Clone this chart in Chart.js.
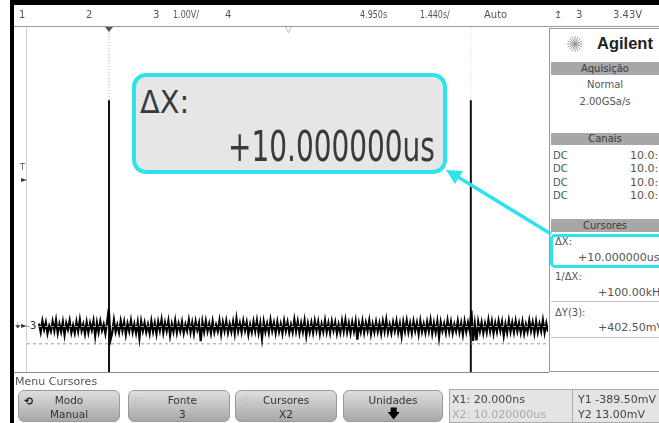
<!DOCTYPE html>
<html>
<head>
<meta charset="utf-8">
<script src="https://cdn.jsdelivr.net/npm/chart.js@4.4.1/dist/chart.umd.min.js"></script>
<style>
body { margin: 0; background: #fff; }
#wrap { position: relative; width: 659px; height: 423px; overflow: hidden;
  font-family: "DejaVu Sans", "Liberation Sans", sans-serif; color: #444; }
#c { position: absolute; left: 0; top: 0; }
.a { position: absolute; white-space: nowrap; }
.sq { transform: scaleX(0.8); transform-origin: left center; }
.st { top: 9px; font-size: 10px; line-height: 12px; color: #555; }
.hd { left: 551px; width: 108px; height: 13px; background: #a7a7a7; color: #3a3a3a;
  font-size: 10px; line-height: 13px; text-align: center; }
.pt { font-size: 10px; line-height: 12px; color: #555; }
.pv { font-size: 11px; line-height: 12px; color: #555; }
.btn { top: 390px; height: 32px; border: 1px solid #9a9a9a; border-radius: 6px;
  background: linear-gradient(#dedede, #a8a8a8); font-size: 10.5px; line-height: 14px;
  text-align: center; color: #333; padding-top: 2px; box-sizing: border-box; }
.ib { font-size: 11px; line-height: 13px; color: #444; }
</style>
</head>
<body>
<div id="wrap">
<canvas id="c" width="659" height="423"></canvas>

<!-- frame -->
<div class="a" style="left:10px;top:0;width:649px;height:5px;background:#000"></div>
<div class="a" style="left:10px;top:0;width:4px;height:423px;background:#000"></div>
<div class="a" style="left:14px;top:26px;width:645px;height:1px;background:#9a9a9a"></div>
<div class="a" style="left:26px;top:27px;width:1px;height:345px;background:#cfcfcf"></div>
<div class="a" style="left:14px;top:372px;width:535px;height:1px;background:#8a8a8a"></div>

<!-- status row -->
<div class="a st" style="left:19px">1</div>
<div class="a st" style="left:86px">2</div>
<div class="a st" style="left:153px">3</div>
<div class="a st sq" style="left:173px">1.00V/</div>
<div class="a st" style="left:225px">4</div>
<div class="a st sq" style="left:360px">4.950s</div>
<div class="a st sq" style="left:420px">1.440s/</div>
<div class="a st" style="left:484px">Auto</div>
<div class="a st" style="left:554px">&#8613;</div>
<div class="a st" style="left:576px">3</div>
<div class="a st" style="left:613px">3.43V</div>

<!-- top markers -->
<div class="a" style="left:105px;top:27px;width:0;height:0;border-left:4px solid transparent;border-right:4px solid transparent;border-top:5px solid #555"></div>
<div class="a" style="left:285px;top:24px;font-size:9px;color:#888">&#9661;</div>

<!-- left markers -->
<div class="a" style="left:20px;top:163px;font-size:8px;color:#555">T</div>
<div class="a" style="left:21px;top:175px;font-size:8px;color:#333">&#9658;</div>
<div class="a" style="left:15px;top:321px;font-size:8px;color:#555">&#9178;</div>
<div class="a" style="left:21px;top:321px;font-size:8px;color:#333">&#9658;</div>
<div class="a" style="left:30px;top:320px;font-size:10px;color:#333">3</div>

<!-- big delta X box -->
<div class="a" style="left:132px;top:73px;width:315px;height:101px;box-sizing:border-box;border:4px solid #2fe2ec;border-radius:14px;background:#e6e6e6"></div>
<div class="a" style="left:140px;top:85px;font-size:32px;line-height:34px;color:#3a3a3a;transform:scaleX(0.9);transform-origin:left top">&Delta;X:</div>
<div class="a" style="left:228px;top:126px;font-family:'DejaVu Sans Condensed','DejaVu Sans',sans-serif;font-stretch:condensed;font-size:42px;line-height:42px;color:#3a3a3a;transform:scaleX(0.74);transform-origin:left top">+10.000000us</div>

<!-- right panel -->
<div class="a" style="left:549px;top:28px;width:112px;height:342px;border-left:1px solid #999;border-top:1px solid #999;border-bottom:1px solid #999;background:#fff"></div>
<svg class="a" style="left:565px;top:34px" width="20" height="20" viewBox="-10 -10 20 20">
  <g stroke="#999" stroke-width="0.9">
    <line x1="0" y1="-8" x2="0" y2="8"/><line x1="-8" y1="0" x2="8" y2="0"/>
    <line x1="-5.6" y1="-5.6" x2="5.6" y2="5.6"/><line x1="-5.6" y1="5.6" x2="5.6" y2="-5.6"/>
    <line x1="-3" y1="-7.4" x2="3" y2="7.4"/><line x1="3" y1="-7.4" x2="-3" y2="7.4"/>
    <line x1="-7.4" y1="-3" x2="7.4" y2="3"/><line x1="-7.4" y1="3" x2="7.4" y2="-3"/>
  </g>
</svg>
<div class="a" style="left:597px;top:34px;font-family:'Liberation Sans','DejaVu Sans',sans-serif;font-weight:bold;font-size:16.5px;line-height:19px;color:#222">Agilent</div>
<div class="a hd" style="top:62px">Aquisição</div>
<div class="a pt" style="left:551px;width:108px;text-align:center;top:79px">Normal</div>
<div class="a pt" style="left:551px;width:108px;text-align:center;top:96px">2.00GSa/s</div>
<div class="a hd" style="top:133px;height:12px;line-height:12px">Canais</div>
<div class="a pt" style="left:553px;top:150px">DC</div>
<div class="a pt" style="left:553px;top:163px">DC</div>
<div class="a pt" style="left:553px;top:177px">DC</div>
<div class="a pt" style="left:553px;top:190px">DC</div>
<div class="a pv" style="left:630px;top:150px">10.0:1</div>
<div class="a pv" style="left:630px;top:163px">10.0:1</div>
<div class="a pv" style="left:630px;top:177px">10.0:1</div>
<div class="a pv" style="left:630px;top:190px">10.0:1</div>
<div class="a hd" style="top:219px">Cursores</div>
<div class="a" style="left:550px;top:234px;width:116px;height:34px;box-sizing:border-box;border:3px solid #2fe2ec;border-radius:5px"></div>
<div class="a pt" style="left:555px;top:236px">&Delta;X:</div>
<div class="a pv" style="left:578px;top:252px">+10.000000us</div>
<div class="a pt" style="left:555px;top:271px">1/&Delta;X:</div>
<div class="a pv" style="left:598px;top:287px">+100.00kHz</div>
<div class="a" style="left:551px;top:301px;width:108px;height:1px;background:#c4c4c4"></div>
<div class="a pt" style="left:555px;top:307px">&Delta;Y(3):</div>
<div class="a pv" style="left:598px;top:322px">+402.50mV</div>
<div class="a" style="left:551px;top:337px;width:108px;height:1px;background:#c4c4c4"></div>

<!-- arrow -->
<svg class="a" style="left:0;top:0" width="659" height="423">
  <line x1="551" y1="234" x2="458" y2="177" stroke="#2fe2ec" stroke-width="3.5"/>
  <polygon points="446,170 463,171 455,184" fill="#2fe2ec"/>
</svg>

<!-- bottom softkeys -->
<div class="a" style="left:15px;top:376px;font-size:11px;line-height:12px;color:#555">Menu Cursores</div>
<div class="a btn" style="left:18px;width:102px">Modo<br>Manual</div>
<div class="a" style="left:24px;top:395px;font-size:11px;font-weight:bold;color:#222">&#10226;</div>
<div class="a btn" style="left:128px;width:102px">&nbsp;&nbsp;Fonte<br>&nbsp;&nbsp;3</div>
<div class="a" style="left:134px;top:395px;font-size:10px;color:#bbb">&#9675;</div>
<div class="a btn" style="left:235px;width:102px">Cursores<br>X2</div>
<div class="a" style="left:241px;top:395px;font-size:10px;color:#bbb">&#9675;</div>
<div class="a btn" style="left:343px;width:100px">Unidades<br><span style="font-size:13px;color:#000">&#129095;</span></div>
<div class="a" style="left:449px;top:389px;width:124px;height:34px;background:#e4e4e4;border:1px solid #aaa;box-sizing:border-box"></div>
<div class="a" style="left:572px;top:389px;width:90px;height:34px;background:#e4e4e4;border:1px solid #aaa;box-sizing:border-box"></div>
<div class="a ib" style="left:452px;top:393px">X1: 20.000ns</div>
<div class="a ib" style="left:452px;top:408px;color:#aaa">X2: 10.020000us</div>
<div class="a ib" style="left:578px;top:393px">Y1 -389.50mV</div>
<div class="a ib" style="left:578px;top:408px">Y2 13.00mV</div>
</div>

<script>
// time base (us) and vertical range (V), ch3 at 1.00V/div
var X_RANGE = [-2.247, 12.153];
var Y_RANGE = [-1.043, 6.957];

// cursor readings
var CURSOR_X = [0.02, 10.02];      // X1, X2 in us
var CURSOR_Y = [-0.3895, 0.013];   // Y1, Y2 in V
var CURSOR_SOLID_TOP = 5.26;       // where the cursor line turns solid

// channel 3 trace, sampled from t0 with step dt (us), values in mV
var TRACE_T0 = -1.915;
var TRACE_DT = 0.04705;
var TRACE_MV = [
  80,-120,140,-60,110,-150,30,-100,130,-90,160,-140,70,-110,120,-180,90,-60,150,-130,
  40,-140,120,-100,170,-90,60,-160,110,-130,90,-70,140,-210,100,-120,130,-80,60,-150,
  120,420,-300,-140,160,-110,50,-130,140,-90,120,-170,80,-100,150,-120,70,-140,110,-250,
  130,-90,100,-120,60,-150,140,-110,90,-160,120,-80,170,-130,100,-90,140,-190,70,-110,
  150,-130,80,-100,120,-140,60,-90,160,-120,100,-150,130,-70,90,-330,120,-110,140,-100,
  80,-140,130,-120,50,-100,150,-160,110,-90,140,-130,70,-110,120,-150,190,-100,90,-120,
  140,-80,110,-170,60,-120,130,-100,150,-140,90,-260,120,-110,80,-130,160,-90,100,-140,
  120,-110,70,-150,140,-90,110,-130,60,-120,170,-100,130,-140,90,-110,150,-200,80,-120,
  100,-130,140,-90,120,-160,70,-110,150,-120,90,-140,130,-80,110,-150,60,-130,140,-100,
  160,-120,90,-140,110,-100,130,-290,80,-110,140,-130,100,-90,150,-160,70,-120,120,-110,
  90,-150,130,-100,170,-120,60,-140,110,-90,140,-130,80,-210,120,-100,150,-120,90,-140,
  130,-90,100,-160,140,-110,70,-130,120,-100,160,-150,90,-120,130,-240,110,-90,80,-130,
  150,-110,120,-140,60,-100,140,-120,90,-170,130,-110,100,-90,380,-320,70,-310,120,-100,
  110,-140,80,-120,160,-100,130,-150,90,-110,140,-90,120,-200,70,-130,150,-110,100,-120,
  140,-100,90,-130,120,-150,60,-110,150,-90,110,-140,130,-120,80,-100,160,-130,90,-110
];

var trace = TRACE_MV.map(function (v, i) {
  return { x: TRACE_T0 + i * TRACE_DT, y: v / 1000 };
});

function vline(x, y0, y1) { return [{ x: x, y: y0 }, { x: x, y: y1 }]; }
function hline(y) { return [{ x: X_RANGE[0], y: y }, { x: X_RANGE[1], y: y }]; }

var ctx = document.getElementById('c').getContext('2d');
var chart = new Chart(ctx, {
  type: 'line',
  data: {
    datasets: [{
      data: hline(CURSOR_Y[1]),
      borderColor: '#b0b0b0', borderWidth: 1, borderDash: [3, 3], pointRadius: 0
    }, {
      data: trace,
      borderColor: '#000', borderWidth: 2.2, pointRadius: 0, tension: 0
    }, {
      data: hline(CURSOR_Y[0]),
      borderColor: '#9a9a9a', borderWidth: 1, borderDash: [3, 3], pointRadius: 0
    }, {
      data: vline(CURSOR_X[0], Y_RANGE[0], CURSOR_SOLID_TOP),
      borderColor: '#111', borderWidth: 2, pointRadius: 0
    }, {
      data: vline(CURSOR_X[0], CURSOR_SOLID_TOP, Y_RANGE[1]),
      borderColor: '#a0a0a0', borderWidth: 1, borderDash: [1, 2], pointRadius: 0
    }, {
      data: vline(CURSOR_X[1], Y_RANGE[0], CURSOR_SOLID_TOP),
      borderColor: '#111', borderWidth: 2, pointRadius: 0
    }, {
      data: vline(CURSOR_X[1], CURSOR_SOLID_TOP, Y_RANGE[1]),
      borderColor: '#d0d0d0', borderWidth: 1, borderDash: [1, 2], pointRadius: 0
    }]
  },
  options: {
    responsive: false,
    animation: false,
    layout: { padding: { left: 27, top: 27, right: 111, bottom: 51 } },
    plugins: { legend: { display: false }, tooltip: { enabled: false } },
    scales: {
      x: { type: 'linear', min: X_RANGE[0], max: X_RANGE[1], display: false },
      y: { min: Y_RANGE[0], max: Y_RANGE[1], display: false }
    }
  }
});
</script>
</body>
</html>
